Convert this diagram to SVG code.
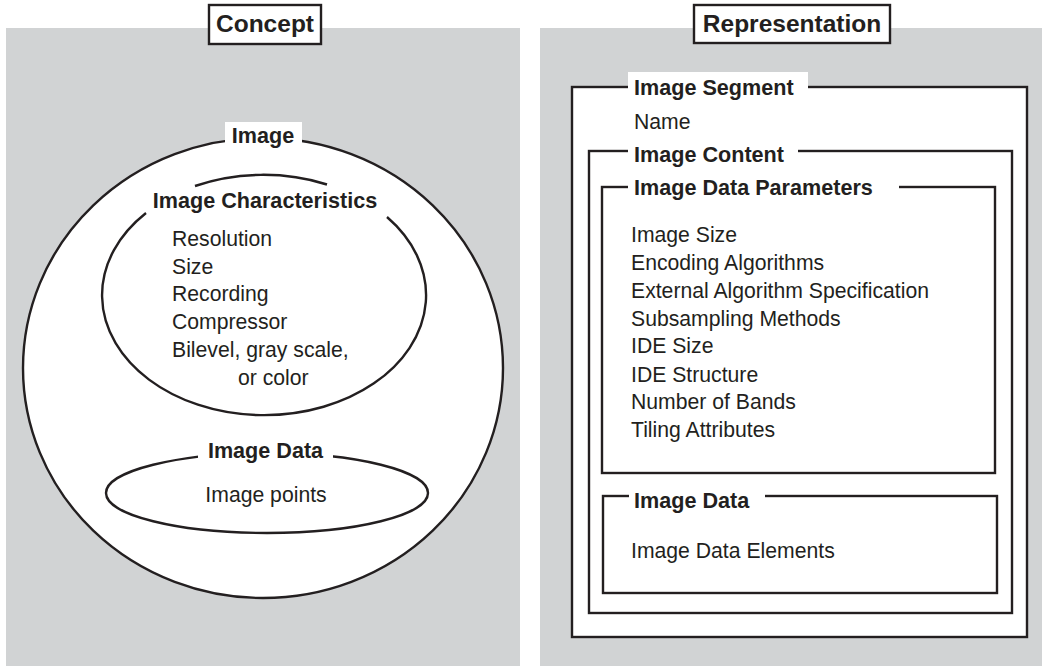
<svg xmlns="http://www.w3.org/2000/svg" width="1042" height="666" viewBox="0 0 1042 666">
<style>
.panel{fill:#d1d3d4}
.ln{fill:none;stroke:#231f20;stroke-width:2.4}
.fw{fill:#fff;stroke:#231f20;stroke-width:2.4}
.bg{fill:#fff}
.b{font-family:"Liberation Sans",Arial,sans-serif;font-weight:bold;font-size:21.6px;fill:#231f20}
.t{font-family:"Liberation Sans",Arial,sans-serif;font-size:21.2px;fill:#231f20}
.h{font-family:"Liberation Sans",Arial,sans-serif;font-weight:bold;font-size:24.5px;fill:#231f20}
</style>
<rect class="panel" x="6" y="28" width="514" height="638"/>
<rect class="panel" x="540" y="28" width="502" height="638"/>
<g id="concept-title">
<rect class="fw" x="209" y="5" width="112" height="39"/>
<text class="h" x="265" y="32" text-anchor="middle">Concept</text>
</g>
<g id="representation-title">
<rect class="fw" x="694" y="5" width="196" height="38"/>
<text class="h" x="792" y="32" text-anchor="middle">Representation</text>
</g>
<g id="image">
<ellipse class="fw" cx="263" cy="368" rx="240" ry="230"/>
<rect class="bg" x="225" y="122" width="77" height="26"/>
<text class="b" x="263" y="143" text-anchor="middle">Image</text>
</g>
<g id="image-characteristics">
<path class="ln" d="M195,186 A162,120 0 0 1 327,184.5"/>
<path class="ln" d="M387,217 A162,120 0 1 1 146,213"/>
<text class="b" x="265" y="208" text-anchor="middle">Image Characteristics</text>
<text class="t" x="172" y="246">Resolution</text>
<text class="t" x="172" y="274">Size</text>
<text class="t" x="172" y="301">Recording</text>
<text class="t" x="172" y="329">Compressor</text>
<text class="t" x="172" y="357">Bilevel, gray scale,</text>
<text class="t" x="238" y="385">or color</text>
</g>
<g id="image-data-concept">
<ellipse class="ln" cx="267" cy="493" rx="161" ry="40"/>
<rect class="bg" x="198" y="438" width="135" height="24"/>
<text class="b" x="265.5" y="458" text-anchor="middle">Image Data</text>
<text class="t" x="266" y="502" text-anchor="middle">Image points</text>
</g>
<g id="image-segment">
<rect class="fw" x="572" y="87" width="455" height="550"/>
<rect class="bg" x="628" y="72" width="180" height="26"/>
<text class="b" x="634" y="95">Image Segment</text>
<text class="t" x="634" y="129">Name</text>
</g>
<g id="image-content">
<rect class="ln" x="589" y="151" width="423" height="462"/>
<rect class="bg" x="628" y="140" width="170" height="24"/>
<text class="b" x="634" y="162">Image Content</text>
</g>
<g id="image-data-parameters">
<rect class="ln" x="602" y="187" width="393" height="286"/>
<rect class="bg" x="628" y="176" width="271" height="24"/>
<text class="b" x="634" y="195">Image Data Parameters</text>
<text class="t" x="631" y="242">Image Size</text>
<text class="t" x="631" y="270">Encoding Algorithms</text>
<text class="t" x="631" y="298">External Algorithm Specification</text>
<text class="t" x="631" y="326">Subsampling Methods</text>
<text class="t" x="631" y="353">IDE Size</text>
<text class="t" x="631" y="382">IDE Structure</text>
<text class="t" x="631" y="409">Number of Bands</text>
<text class="t" x="631" y="437">Tiling Attributes</text>
</g>
<g id="image-data-representation">
<rect class="ln" x="603" y="496" width="394" height="97"/>
<rect class="bg" x="629" y="485" width="136" height="24"/>
<text class="b" x="634" y="508">Image Data</text>
<text class="t" x="631" y="558">Image Data Elements</text>
</g>
<g id="connectors"/>
</svg>
